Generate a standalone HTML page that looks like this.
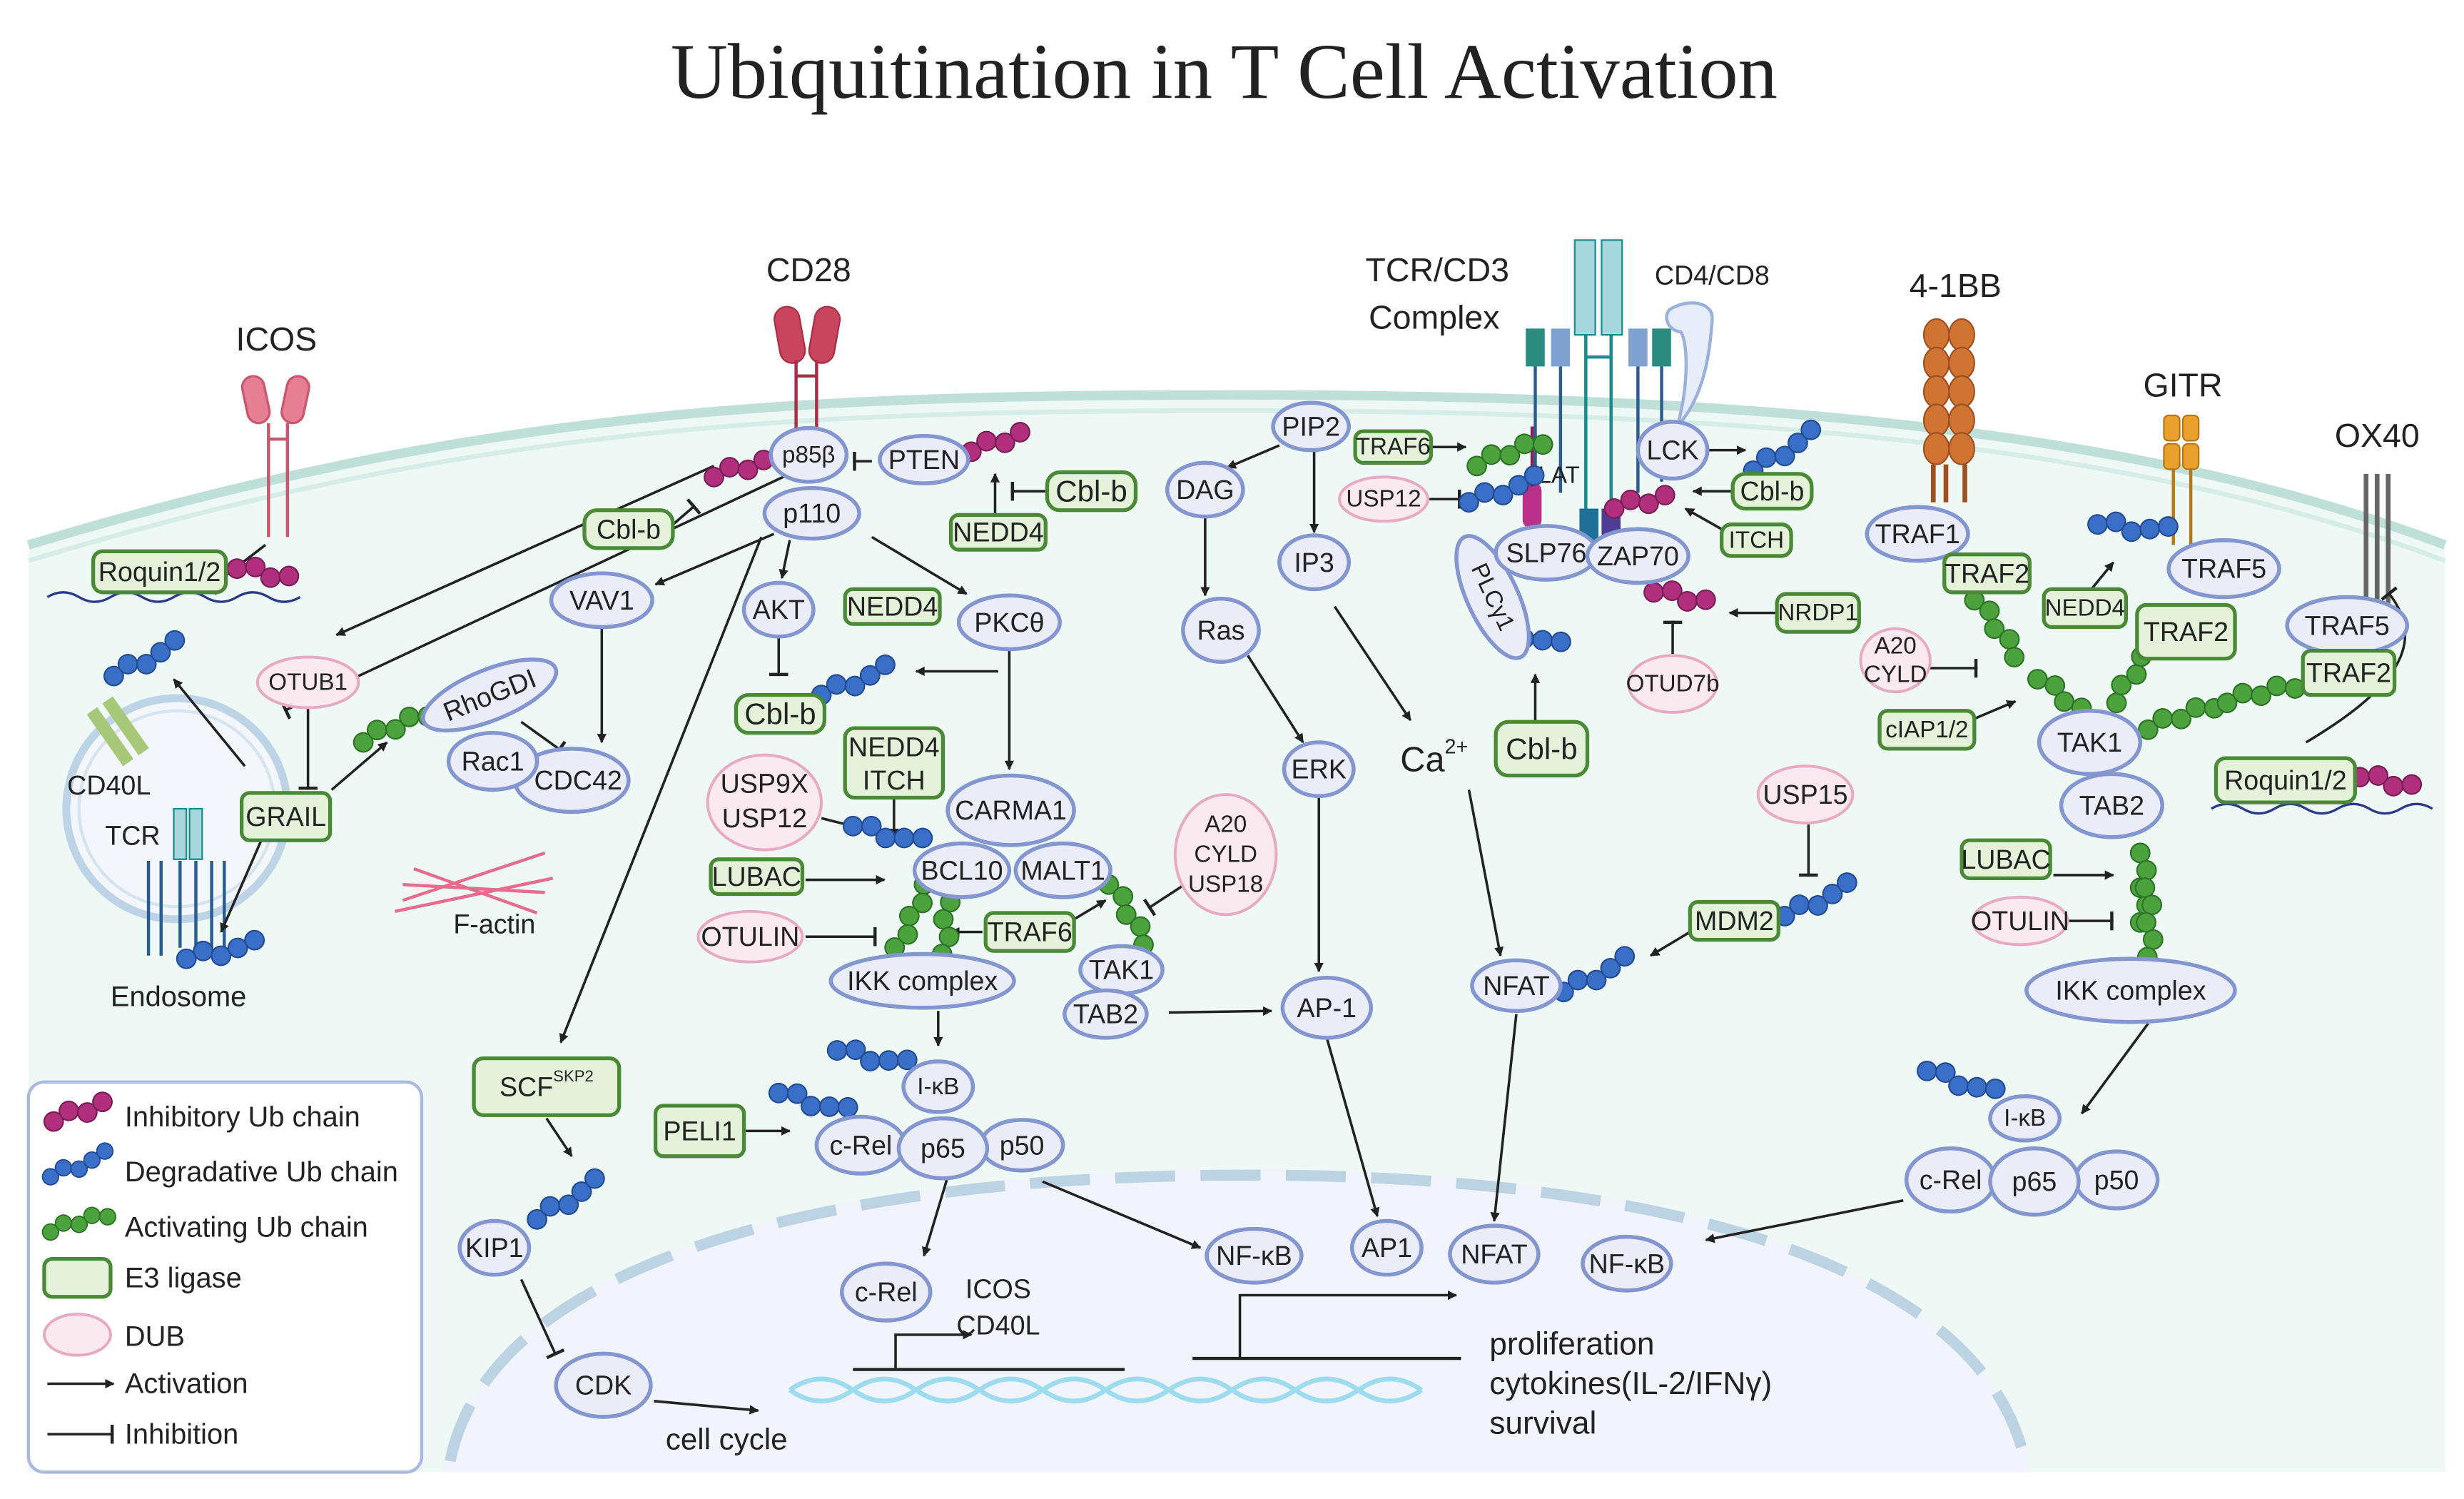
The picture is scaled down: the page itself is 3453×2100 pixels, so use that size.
<!DOCTYPE html>
<html><head><meta charset="utf-8"><style>
html,body{margin:0;padding:0;background:#fff;}
svg{display:block;}
text{font-family:"Liberation Sans",sans-serif;fill:#222;}
.n{fill:#eaedf8;stroke:#8496d0;stroke-width:2.5;}
.e{fill:#e4f2da;stroke:#4a8a36;stroke-width:2.4;}
.d{fill:#fbe9f0;stroke:#e8aac2;stroke-width:1.8;}
.t{font-size:17px;text-anchor:middle;dominant-baseline:central;}
.s{font-size:15px;text-anchor:middle;dominant-baseline:central;}
.a{stroke:#222;stroke-width:1.6;fill:none;marker-end:url(#ar);}
.i{stroke:#222;stroke-width:1.6;fill:none;marker-end:url(#ib);}
</style></head><body>
<svg width="3453" height="2100" viewBox="0 0 1560 949" preserveAspectRatio="none" xmlns="http://www.w3.org/2000/svg">
<defs>
<marker id="ar" viewBox="0 0 10 10" refX="9" refY="5" markerWidth="6" markerHeight="6" orient="auto-start-reverse" markerUnits="userSpaceOnUse"><path d="M0,0 L10,5 L0,10 z" fill="#222"/></marker>
<marker id="ib" viewBox="0 0 4 12" refX="3" refY="6" markerWidth="4" markerHeight="12" orient="auto" markerUnits="userSpaceOnUse"><rect x="1" y="0" width="2" height="12" fill="#222"/></marker>
<g id="cP"><circle cx="0" cy="0" r="6" fill="#b0307e" stroke="#7a1e58"/><circle cx="11" cy="-4" r="6" fill="#b0307e" stroke="#7a1e58"/><circle cx="22" cy="0" r="6" fill="#b0307e" stroke="#7a1e58"/><circle cx="33" cy="-4" r="6" fill="#b0307e" stroke="#7a1e58"/></g>
<g id="cB"><circle cx="0" cy="0" r="6" fill="#3a6fc8" stroke="#244c94"/><circle cx="11" cy="-4" r="6" fill="#3a6fc8" stroke="#244c94"/><circle cx="22" cy="0" r="6" fill="#3a6fc8" stroke="#244c94"/><circle cx="33" cy="-4" r="6" fill="#3a6fc8" stroke="#244c94"/><circle cx="44" cy="-8" r="6" fill="#3a6fc8" stroke="#244c94"/></g>
<g id="cG"><circle cx="0" cy="0" r="6" fill="#4ca23c" stroke="#2e7426"/><circle cx="11" cy="-4" r="6" fill="#4ca23c" stroke="#2e7426"/><circle cx="22" cy="0" r="6" fill="#4ca23c" stroke="#2e7426"/><circle cx="33" cy="-4" r="6" fill="#4ca23c" stroke="#2e7426"/><circle cx="44" cy="0" r="6" fill="#4ca23c" stroke="#2e7426"/></g>
</defs>
<rect width="1560" height="949" fill="#fff"/>
<text x="775" y="62" style="font-family:'Liberation Serif',serif;font-size:50px;text-anchor:middle">Ubiquitination in T Cell Activation</text>

<path d="M18,345 C300,260 500,250 780,250 C1100,250 1350,270 1548,345 L1548,932 L18,932 Z" fill="#eef8f4"/>
<path d="M18,345 C300,260 500,250 780,250 C1100,250 1350,270 1548,345" fill="none" stroke="#bfe0d8" stroke-width="6"/>
<path d="M18,355 C300,270 500,260 780,260 C1100,260 1350,280 1548,355" fill="none" stroke="#d6ece6" stroke-width="3"/>
<path d="M280,932 C300,800 520,742 780,740 C1050,738 1260,800 1285,932 Z" fill="#f1f4fb"/>
<path d="M285,925 C310,800 520,745 780,744 C1050,742 1255,800 1282,925" fill="none" stroke="#bcd3e4" stroke-width="7" stroke-dasharray="38,16"/>
<path d="M500,880 q20,-14 40,0 t40,0 t40,0 t40,0 t40,0 t40,0 t40,0 t40,0 t40,0 t40,0" fill="none" stroke="#9cdcee" stroke-width="3"/>
<path d="M500,880 q20,14 40,0 t40,0 t40,0 t40,0 t40,0 t40,0 t40,0 t40,0 t40,0 t40,0" fill="none" stroke="#9cdcee" stroke-width="3"/>
<line x1="540" y1="867" x2="712" y2="867" stroke="#222" stroke-width="2"/>
<path d="M567,867 V845 H615" class="a" stroke-width="2"/>
<line x1="755" y1="860" x2="925" y2="860" stroke="#222" stroke-width="2"/>
<path d="M785,860 V820 H922" class="a" stroke-width="2"/>

<g stroke="#c9586f" stroke-width="1.5" fill="#e67f93"><rect x="155" y="238" width="14" height="30" rx="7" transform="rotate(-12 162 253)"/><rect x="180" y="238" width="14" height="30" rx="7" transform="rotate(12 187 253)"/></g>
<path d="M170,268 V340 M182,268 V340 M170,278 H182" stroke="#c9586f" stroke-width="2" fill="none"/>
<g stroke="#a82d45" fill="#c9455e"><rect x="492" y="194" width="16" height="36" rx="8" transform="rotate(-10 500 212)"/><rect x="514" y="194" width="16" height="36" rx="8" transform="rotate(10 522 212)"/></g>
<path d="M504,228 V275 M517,228 V275 M504,238 H517" stroke="#a82d45" stroke-width="2" fill="none"/>
<text x="512" y="178" style="font-size:21px;text-anchor:middle">CD28</text>
<text x="175" y="222" style="font-size:21px;text-anchor:middle">ICOS</text>
<text x="910" y="178" style="font-size:21px;text-anchor:middle">TCR/CD3</text>
<text x="908" y="208" style="font-size:21px;text-anchor:middle">Complex</text>
<text x="1084" y="180" style="font-size:17px;text-anchor:middle">CD4/CD8</text>
<g stroke="#178c8e" fill="#a6d7dd" stroke-width="1"><rect x="997" y="152" width="13" height="60"/><rect x="1014" y="152" width="13" height="60"/></g>
<path d="M1004,212 V345 M1020,212 V345 M1004,226 H1020" stroke="#178c8e" stroke-width="2"/>
<rect x="966" y="208" width="12" height="24" fill="#2a8c7e"/><rect x="982" y="208" width="12" height="24" fill="#7fa2d0"/>
<rect x="1031" y="208" width="12" height="24" fill="#7fa2d0"/><rect x="1046" y="208" width="12" height="24" fill="#2a8c7e"/>
<path d="M972,232 V312 M988,232 V312 M1037,232 V312 M1052,232 V305" stroke="#2a5c8e" stroke-width="2"/>
<path d="M1062,270 C1070,240 1068,215 1064,210 C1058,210 1052,202 1057,196 C1070,188 1085,192 1084,202 C1082,235 1075,255 1062,270 Z" fill="#e6ecf8" stroke="#9bb0dc" stroke-width="2"/>
<rect x="964" y="305" width="12" height="30" rx="6" fill="#b83088"/><line x1="970" y1="270" x2="970" y2="308" stroke="#8a1e58" stroke-width="2"/>
<rect x="1000" y="322" width="12" height="20" fill="#1e7096"/><rect x="1014" y="322" width="12" height="20" fill="#4d3d94"/>
<text x="987" y="301" class="s">LAT</text>
<g fill="#d07434" stroke="#a04f20"><ellipse cx="1226" cy="212" rx="8" ry="10"/><ellipse cx="1242" cy="212" rx="8" ry="10"/><ellipse cx="1226" cy="230" rx="8" ry="10"/><ellipse cx="1242" cy="230" rx="8" ry="10"/><ellipse cx="1226" cy="248" rx="8" ry="10"/><ellipse cx="1242" cy="248" rx="8" ry="10"/><ellipse cx="1226" cy="266" rx="8" ry="10"/><ellipse cx="1242" cy="266" rx="8" ry="10"/><ellipse cx="1226" cy="284" rx="8" ry="10"/><ellipse cx="1242" cy="284" rx="8" ry="10"/></g>
<path d="M1224,294 V318 M1232,294 V318 M1244,294 V318" stroke="#a04f20" stroke-width="3"/>
<text x="1238" y="188" style="font-size:21px;text-anchor:middle">4-1BB</text>
<g fill="#eaa02c" stroke="#b87614"><rect x="1370" y="263" width="10" height="16" rx="3"/><rect x="1382" y="263" width="10" height="16" rx="3"/><rect x="1370" y="281" width="10" height="16" rx="3"/><rect x="1382" y="281" width="10" height="16" rx="3"/></g>
<path d="M1376,297 V345 M1387,297 V345" stroke="#b87614" stroke-width="2"/>
<text x="1382" y="251" style="font-size:21px;text-anchor:middle">GITR</text>
<path d="M1498,300 V382 M1505,300 V382 M1512,300 V382" stroke="#666" stroke-width="3"/>
<text x="1505" y="283" style="font-size:21px;text-anchor:middle">OX40</text>

<circle cx="112" cy="512" r="70" fill="#f3f7fc" stroke="#bcd4e6" stroke-width="5"/>
<circle cx="112" cy="512" r="62" fill="none" stroke="#d6e4f0" stroke-width="2"/>
<g transform="rotate(-35 82 470)"><rect x="70" y="440" width="8" height="40" fill="#a6c878"/><rect x="82" y="440" width="8" height="40" fill="#a6c878"/></g>
<g stroke="#178c8e" fill="#a6d7dd"><rect x="110" y="512" width="8" height="32"/><rect x="120" y="512" width="8" height="32"/></g>
<path d="M94,545 V605 M102,545 V605 M114,545 V600 M124,545 V600 M134,545 V605 M142,545 V605" stroke="#2a5c8e" stroke-width="2"/>
<text x="69" y="497" class="t">CD40L</text><text x="84" y="529" class="t">TCR</text>
<text x="113" y="637" style="font-size:18px;text-anchor:middle">Endosome</text>
<path d="M255,570 L345,540 M255,560 L345,565 M262,550 L340,578 M250,577 L350,556" stroke="#e86a8c" stroke-width="2"/>
<text x="313" y="585" class="t">F-actin</text>
<path d="M30,378 q10,-6 20,0 t20,0 t20,0 t20,0 t20,0 t20,0 t20,0 t20,0" fill="none" stroke="#2a3a88" stroke-width="1.5"/>
<path d="M1400,512 q10,-6 20,0 t20,0 t20,0 t20,0 t20,0 t20,0 t20,0" fill="none" stroke="#2a3a88" stroke-width="1.5"/>

<path d="M168,345 L133,372" class="i"/>
<path d="M452,295 L213,402" class="a"/>
<path d="M500,300 L180,450" class="i"/>
<path d="M552,292 L540,292" class="i"/>
<path d="M662,311 L640,311" class="i"/>
<path d="M630,330 V300" class="a"/>
<path d="M425,333 L440,320" class="i"/>
<path d="M490,338 L415,370" class="a"/>
<path d="M500,342 L495,366" class="a"/>
<path d="M552,340 L612,376" class="a"/>
<path d="M482,340 L355,660" class="a"/>
<path d="M381,398 V470" class="a"/>
<path d="M493,403 V428" class="i"/>
<path d="M632,425 H580" class="a"/>
<path d="M639,411 V487" class="a"/>
<path d="M195,448 V500" class="i"/>
<path d="M210,500 L245,470" class="a"/>
<path d="M155,485 L110,430" class="a"/>
<path d="M165,533 L140,590" class="a"/>
<path d="M330,457 L355,475" class="i"/>
<path d="M520,518 L540,523" class="i"/>
<path d="M566,505 V530" class="a"/>
<path d="M510,557 L560,557" class="a"/>
<path d="M510,593 L555,593" class="i"/>
<path d="M622,590 L602,590" class="a"/>
<path d="M680,582 L700,570" class="a"/>
<path d="M750,560 L727,575" class="i"/>
<path d="M594,640 V662" class="a"/>
<path d="M472,716 L500,716" class="a"/>
<path d="M346,708 L362,732" class="a"/>
<path d="M330,810 L352,858" class="i"/>
<path d="M414,887 L480,893" class="a"/>
<path d="M740,641 L805,640" class="a"/>
<path d="M600,745 L585,795" class="a"/>
<path d="M660,748 L760,790" class="a"/>
<path d="M810,282 L777,296" class="a"/>
<path d="M763,327 V377" class="a"/>
<path d="M832,285 V337" class="a"/>
<path d="M790,415 L825,470" class="a"/>
<path d="M835,505 V615" class="a"/>
<path d="M845,384 L893,456" class="a"/>
<path d="M840,657 L872,770" class="a"/>
<path d="M930,500 L950,605" class="a"/>
<path d="M960,642 L946,773" class="a"/>
<path d="M907,283 H928" class="a"/>
<path d="M905,316 H925" class="i"/>
<path d="M1082,285 H1105" class="a"/>
<path d="M1096,311 H1072" class="a"/>
<path d="M1090,335 L1067,322" class="a"/>
<path d="M1124,388 H1095" class="a"/>
<path d="M1059,414 V393" class="i"/>
<path d="M972,457 V427" class="a"/>
<path d="M1145,522 V555" class="i"/>
<path d="M1070,590 L1045,605" class="a"/>
<path d="M1320,378 L1338,356" class="a"/>
<path d="M1222,423 L1252,423" class="i"/>
<path d="M1250,455 L1276,444" class="a"/>
<path d="M1300,554 H1338" class="a"/>
<path d="M1310,583 H1338" class="i"/>
<path d="M1360,648 L1318,705" class="a"/>
<path d="M1205,760 L1080,785" class="a"/>
<path d="M1460,470 C1510,440 1540,410 1512,375" class="i"/>

<use href="#cP" transform="translate(150,360) rotate(15)"/>
<use href="#cP" transform="translate(452,302) rotate(-12)"/>
<use href="#cP" transform="translate(615,286) rotate(-15)"/>
<use href="#cB" transform="translate(72,428) rotate(-20)"/>
<use href="#cG" transform="translate(230,470) rotate(-22)"/>
<use href="#cB" transform="translate(118,607) rotate(-5)"/>
<use href="#cB" transform="translate(520,440) rotate(-15)"/>
<use href="#cB" transform="translate(540,523) rotate(20)"/>
<use href="#cG" transform="translate(585,560) rotate(115)"/>
<use href="#cG" transform="translate(598,560) rotate(92)"/>
<use href="#cG" transform="translate(702,560) rotate(60)"/>
<use href="#cB" transform="translate(530,665) rotate(18)"/>
<use href="#cB" transform="translate(493,692) rotate(22)"/>
<use href="#cB" transform="translate(340,772) rotate(-25)"/>
<use href="#cG" transform="translate(935,295) rotate(-18)"/>
<use href="#cB" transform="translate(930,318) rotate(-12)"/>
<use href="#cB" transform="translate(1110,298) rotate(-25)"/>
<use href="#cP" transform="translate(1022,322) rotate(-8)"/>
<use href="#cP" transform="translate(1047,375) rotate(15)"/>
<use href="#cB" transform="translate(945,395) rotate(25)"/>
<use href="#cB" transform="translate(990,628) rotate(-20)"/>
<use href="#cB" transform="translate(1130,580) rotate(-18)"/>
<use href="#cB" transform="translate(1328,332) rotate(12)"/>
<use href="#cG" transform="translate(1250,380) rotate(55)"/>
<use href="#cG" transform="translate(1290,430) rotate(40)"/>
<use href="#cG" transform="translate(1340,445) rotate(-55)"/>
<use href="#cG" transform="translate(1360,462) rotate(-18)"/>
<use href="#cG" transform="translate(1410,445) rotate(-12)"/>
<use href="#cG" transform="translate(1355,540) rotate(90)"/>
<use href="#cG" transform="translate(1358,562) rotate(88)"/>
<use href="#cB" transform="translate(1220,678) rotate(25)"/>
<use href="#cP" transform="translate(1494,492) rotate(15)"/>

<g>
<ellipse class="n" cx="512" cy="288" rx="24" ry="17"/><text x="512" y="288" class="s">p85β</text>
<ellipse class="n" cx="514" cy="325" rx="30" ry="16"/><text x="514" y="325" class="t">p110</text>
<ellipse class="n" cx="585" cy="291" rx="28" ry="15"/><text x="585" y="291" class="t">PTEN</text>
<ellipse class="n" cx="381" cy="380" rx="32" ry="17"/><text x="381" y="380" class="t">VAV1</text>
<ellipse class="n" cx="493" cy="386" rx="22" ry="17"/><text x="493" y="386" class="t">AKT</text>
<ellipse class="n" cx="639" cy="394" rx="32" ry="17"/><text x="639" y="394" class="t">PKCθ</text>
<ellipse class="n" cx="362" cy="494" rx="36" ry="20"/><text x="366" y="494" class="t">CDC42</text>
<ellipse class="n" cx="312" cy="482" rx="28" ry="18"/><text x="312" y="482" class="t">Rac1</text>
<ellipse class="n" cx="310" cy="440" rx="45" ry="16" transform="rotate(-22 310 440)"/><text x="310" y="440" class="t" transform="rotate(-22 310 440)">RhoGDI</text>
<ellipse class="n" cx="640" cy="513" rx="40" ry="22"/><text x="640" y="513" class="t">CARMA1</text>
<ellipse class="n" cx="609" cy="551" rx="30" ry="17"/><text x="609" y="551" class="t">BCL10</text>
<ellipse class="n" cx="673" cy="551" rx="30" ry="17"/><text x="673" y="551" class="t">MALT1</text>
<ellipse class="n" cx="584" cy="621" rx="58" ry="17"/><text x="584" y="621" class="t">IKK complex</text>
<ellipse class="n" cx="594" cy="688" rx="22" ry="16"/><text x="594" y="688" class="s">I-κB</text>
<ellipse class="n" cx="545" cy="725" rx="28" ry="18"/><text x="545" y="725" class="t">c-Rel</text>
<ellipse class="n" cx="647" cy="725" rx="26" ry="16"/><text x="647" y="725" class="t">p50</text>
<ellipse class="n" cx="597" cy="727" rx="28" ry="19"/><text x="597" y="727" class="t">p65</text>
<ellipse class="n" cx="710" cy="614" rx="26" ry="15"/><text x="710" y="614" class="t">TAK1</text>
<ellipse class="n" cx="700" cy="642" rx="26" ry="15"/><text x="700" y="642" class="t">TAB2</text>
<ellipse class="n" cx="830" cy="270" rx="24" ry="15"/><text x="830" y="270" class="t">PIP2</text>
<ellipse class="n" cx="763" cy="310" rx="24" ry="17"/><text x="763" y="310" class="t">DAG</text>
<ellipse class="n" cx="832" cy="356" rx="22" ry="17"/><text x="832" y="356" class="t">IP3</text>
<ellipse class="n" cx="773" cy="399" rx="24" ry="20"/><text x="773" y="399" class="t">Ras</text>
<ellipse class="n" cx="835" cy="487" rx="22" ry="17"/><text x="835" y="487" class="t">ERK</text>
<ellipse class="n" cx="840" cy="638" rx="28" ry="19"/><text x="840" y="638" class="t">AP-1</text>
<ellipse class="n" cx="960" cy="624" rx="28" ry="16"/><text x="960" y="624" class="t">NFAT</text>
<ellipse class="n" cx="1059" cy="285" rx="22" ry="18"/><text x="1059" y="285" class="t">LCK</text>
<ellipse class="n" cx="945" cy="378" rx="42" ry="16" transform="rotate(65 945 378)"/><text x="945" y="378" class="s" transform="rotate(65 945 378)">PLCγ1</text>
<ellipse class="n" cx="979" cy="350" rx="32" ry="17"/><text x="979" y="350" class="t">SLP76</text>
<ellipse class="n" cx="1037" cy="352" rx="32" ry="17"/><text x="1037" y="352" class="t">ZAP70</text>
<ellipse class="n" cx="1214" cy="338" rx="32" ry="17"/><text x="1214" y="338" class="t">TRAF1</text>
<ellipse class="n" cx="1408" cy="360" rx="35" ry="18"/><text x="1408" y="360" class="t">TRAF5</text>
<ellipse class="n" cx="1486" cy="396" rx="38" ry="18"/><text x="1486" y="396" class="t">TRAF5</text>
<ellipse class="n" cx="1337" cy="510" rx="32" ry="20"/><text x="1337" y="510" class="t">TAB2</text>
<ellipse class="n" cx="1323" cy="470" rx="32" ry="20"/><text x="1323" y="470" class="t">TAK1</text>
<ellipse class="n" cx="1349" cy="627" rx="66" ry="20"/><text x="1349" y="627" class="t">IKK complex</text>
<ellipse class="n" cx="1282" cy="708" rx="22" ry="14"/><text x="1282" y="708" class="s">I-κB</text>
<ellipse class="n" cx="1235" cy="747" rx="28" ry="20"/><text x="1235" y="747" class="t">c-Rel</text>
<ellipse class="n" cx="1340" cy="747" rx="26" ry="18"/><text x="1340" y="747" class="t">p50</text>
<ellipse class="n" cx="1288" cy="748" rx="28" ry="21"/><text x="1288" y="748" class="t">p65</text>
<ellipse class="n" cx="561" cy="818" rx="28" ry="18"/><text x="561" y="818" class="t">c-Rel</text>
<ellipse class="n" cx="794" cy="795" rx="30" ry="17"/><text x="794" y="795" class="t">NF-κB</text>
<ellipse class="n" cx="878" cy="790" rx="22" ry="17"/><text x="878" y="790" class="t">AP1</text>
<ellipse class="n" cx="946" cy="794" rx="28" ry="18"/><text x="946" y="794" class="t">NFAT</text>
<ellipse class="n" cx="1030" cy="800" rx="28" ry="17"/><text x="1030" y="800" class="t">NF-κB</text>
<ellipse class="n" cx="313" cy="790" rx="22" ry="17"/><text x="313" y="790" class="t">KIP1</text>
<ellipse class="n" cx="382" cy="877" rx="30" ry="20"/><text x="382" y="877" class="t">CDK</text>
</g>
<g>
<rect class="e" x="59" y="349" width="84" height="26" rx="6"/><text x="101" y="362" class="t">Roquin1/2</text>
<rect class="e" x="370" y="323" width="56" height="24" rx="8"/><text x="398" y="335" class="t">Cbl-b</text>
<rect class="e" x="663" y="299" width="56" height="24" rx="8"/><text x="691" y="311" style="font-size:19px;text-anchor:middle;dominant-baseline:central">Cbl-b</text>
<rect class="e" x="602" y="326" width="60" height="22" rx="5"/><text x="632" y="337" class="t">NEDD4</text>
<rect class="e" x="535" y="373" width="60" height="22" rx="5"/><text x="565" y="384" class="t">NEDD4</text>
<rect class="e" x="466" y="440" width="56" height="24" rx="8"/><text x="494" y="452" style="font-size:19px;text-anchor:middle;dominant-baseline:central">Cbl-b</text>
<rect class="e" x="535" y="461" width="62" height="44" rx="6"/><text x="566" y="473" class="t">NEDD4</text><text x="566" y="494" class="t">ITCH</text>
<rect class="e" x="450" y="544" width="58" height="22" rx="5"/><text x="479" y="555" class="t">LUBAC</text>
<rect class="e" x="624" y="578" width="56" height="24" rx="5"/><text x="652" y="590" class="t">TRAF6</text>
<rect class="e" x="300" y="670" width="92" height="36" rx="6"/><text x="346" y="688" class="t">SCF<tspan font-size="10" dy="-7">SKP2</tspan></text>
<rect class="e" x="415" y="700" width="56" height="32" rx="5"/><text x="443" y="716" class="t">PELI1</text>
<rect class="e" x="153" y="502" width="56" height="30" rx="5"/><text x="181" y="517" class="t">GRAIL</text>
<rect class="e" x="858" y="273" width="48" height="20" rx="5"/><text x="882" y="283" class="s">TRAF6</text>
<rect class="e" x="1097" y="300" width="50" height="22" rx="8"/><text x="1122" y="311" class="t">Cbl-b</text>
<rect class="e" x="1090" y="332" width="44" height="20" rx="6"/><text x="1112" y="342" class="s">ITCH</text>
<rect class="e" x="1125" y="376" width="52" height="24" rx="6"/><text x="1151" y="388" class="s">NRDP1</text>
<rect class="e" x="947" y="457" width="58" height="34" rx="8"/><text x="976" y="474" style="font-size:19px;text-anchor:middle;dominant-baseline:central">Cbl-b</text>
<rect class="e" x="1070" y="571" width="56" height="24" rx="5"/><text x="1098" y="583" class="t">MDM2</text>
<rect class="e" x="1231" y="351" width="54" height="24" rx="5"/><text x="1258" y="363" class="t">TRAF2</text>
<rect class="e" x="1294" y="373" width="52" height="24" rx="5"/><text x="1320" y="385" class="s">NEDD4</text>
<rect class="e" x="1353" y="383" width="62" height="34" rx="6"/><text x="1384" y="400" class="t">TRAF2</text>
<rect class="e" x="1458" y="412" width="58" height="28" rx="5"/><text x="1487" y="426" class="t">TRAF2</text>
<rect class="e" x="1190" y="450" width="60" height="24" rx="5"/><text x="1220" y="462" class="s">cIAP1/2</text>
<rect class="e" x="1242" y="532" width="56" height="24" rx="5"/><text x="1270" y="544" class="t">LUBAC</text>
<rect class="e" x="1403" y="480" width="88" height="28" rx="6"/><text x="1447" y="494" class="t">Roquin1/2</text>
</g>
<g>
<ellipse class="d" cx="195" cy="432" rx="32" ry="16"/><text x="195" y="432" class="s">OTUB1</text>
<ellipse class="d" cx="484" cy="508" rx="36" ry="30"/><text x="484" y="496" class="t">USP9X</text><text x="484" y="518" class="t">USP12</text>
<ellipse class="d" cx="475" cy="593" rx="33" ry="16"/><text x="475" y="593" class="t">OTULIN</text>
<ellipse class="d" cx="776" cy="541" rx="32" ry="38"/><text x="776" y="522" class="s">A20</text><text x="776" y="541" class="s">CYLD</text><text x="776" y="560" class="s">USP18</text>
<ellipse class="d" cx="876" cy="316" rx="28" ry="14"/><text x="876" y="316" class="s">USP12</text>
<ellipse class="d" cx="1059" cy="433" rx="28" ry="18"/><text x="1059" y="433" class="s">OTUD7b</text>
<ellipse class="d" cx="1143" cy="503" rx="30" ry="18"/><text x="1143" y="503" class="t">USP15</text>
<ellipse class="d" cx="1200" cy="418" rx="22" ry="20"/><text x="1200" y="409" class="s">A20</text><text x="1200" y="427" class="s">CYLD</text>
<ellipse class="d" cx="1279" cy="583" rx="30" ry="15"/><text x="1279" y="583" class="t">OTULIN</text>
</g>

<text x="908" y="481" style="font-size:22px;text-anchor:middle;dominant-baseline:central">Ca<tspan font-size="13" dy="-8">2+</tspan></text>
<text x="632" y="816" class="t">ICOS</text><text x="632" y="839" class="t">CD40L</text>
<text x="460" y="911" style="font-size:19px;text-anchor:middle;dominant-baseline:central">cell cycle</text>
<text x="943" y="851" style="font-size:20px;dominant-baseline:central">proliferation</text>
<text x="943" y="876" style="font-size:20px;dominant-baseline:central">cytokines(IL-2/IFNγ)</text>
<text x="943" y="901" style="font-size:20px;dominant-baseline:central">survival</text>

<rect x="18" y="685" width="249" height="247" rx="10" fill="#fff" stroke="#a9b9e0" stroke-width="2"/>
<use href="#cP" transform="translate(34,710) rotate(-15)"/>
<use href="#cB" transform="translate(32,745) rotate(-15) scale(0.85)"/>
<use href="#cG" transform="translate(32,780) rotate(-15) scale(0.85)"/>
<rect class="e" x="28" y="797" width="42" height="24" rx="5"/>
<ellipse class="d" cx="49" cy="845" rx="21" ry="13"/>
<path d="M30,876 H72" class="a"/><path d="M30,908 H72" class="i"/>
<g style="font-size:18px"><text x="79" y="713">Inhibitory Ub chain</text><text x="79" y="748">Degradative  Ub chain</text><text x="79" y="783">Activating  Ub chain</text><text x="79" y="815">E3 ligase</text><text x="79" y="852">DUB</text><text x="79" y="882">Activation</text><text x="79" y="914">Inhibition</text></g>
</svg>
</body></html>
